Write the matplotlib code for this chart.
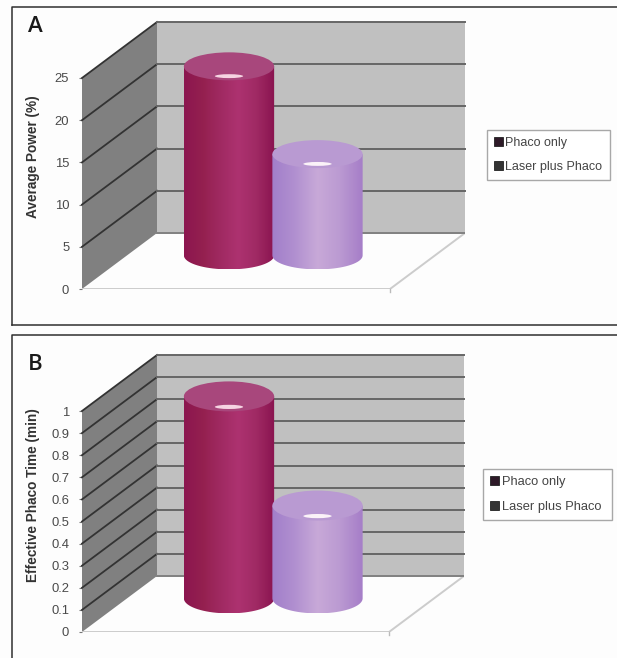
import numpy as np
import matplotlib
matplotlib.use('Agg')
import matplotlib.pyplot as plt
from matplotlib.colors import LinearSegmentedColormap
from matplotlib.patches import Ellipse, Polygon, Rectangle, PathPatch
from matplotlib.path import Path
from matplotlib.lines import Line2D

plt.rcParams['font.family'] = ['Liberation Sans', 'DejaVu Sans']

W, H = 617, 658

series_names = ['Phaco only', 'Laser plus Phaco']

# panel A
power_values = [22.4, 12.0]
power_ticks = [0, 5, 10, 15, 20, 25]
power_ticklabels = ['0', '5', '10', '15', '20', '25']
power_label = 'Average Power (%)'

# panel B
time_values = [0.914, 0.42]
time_ticks = [0, 0.1, 0.2, 0.3, 0.4, 0.5, 0.6, 0.7, 0.8, 0.9, 1]
time_ticklabels = ['0', '0.1', '0.2', '0.3', '0.4', '0.5', '0.6', '0.7', '0.8', '0.9', '1']
time_label = 'Effective Phaco Time (min)'

bar_maps = [
    LinearSegmentedColormap.from_list('mag', ['#8c1650', '#94204f', '#a02a62', '#ad3270', '#a02a64', '#8a1450']),
    LinearSegmentedColormap.from_list('pur', ['#a27fca', '#b190d0', '#c8a9d8', '#bb9ad2', '#a67ec8']),
]
top_colors = ['#a8477c', '#b99ad2']
lip_colors = ['#f6d4e2', '#fbf2f8']
swatches = ['#2e1a28', '#343434']


def draw_panel(values, ticks, ticklabels, ylabel, letter, y0, y_max, x_right, cx, step,
               ell_h, label_y, letter_y, legend_box, legend_text_size):
    vmax = ticks[-1]
    depth_x, depth_y = 75, 56
    x_left = 82
    unit = (y0 - y_max) / vmax                  # pixels per value
    wall_h = y_max - depth_y

    ax = fig.add_axes([x_left / W, 1 - y0 / H, (x_right - x_left) / W, (y0 - wall_h) / H])
    xlim = ((x_left - cx) / step, (x_right - cx) / step)
    ylim = (0, (y0 - wall_h) / unit)
    d_x = depth_x / step
    d_y = depth_y / unit
    xa, xb = xlim[0], xlim[0] + d_x

    # walls and floor
    ax.add_patch(Polygon([(xa, 0), (xb, d_y), (xb, ylim[1]), (xa, vmax)], fc='#808080', ec='none'))
    ax.add_patch(Rectangle((xb, d_y), xlim[1] - xb, vmax, fc='#c0c0c0', ec='none'))
    ax.plot([xa, xlim[1] - d_x, xlim[1], xb], [0, 0, d_y, d_y], color='#cccccc', lw=1.4)
    ax.plot([xlim[1] - d_x] * 2, [0, -3 / unit], color='#bbbbbb', lw=1, clip_on=False)

    for t in ticks:
        if t == 0:
            ax.plot([xb, xlim[1]], [d_y, d_y], color='#808080', lw=1.4)
            continue
        ax.plot([xa, xb], [t, t + d_y], color='#333333', lw=1.3, clip_on=False)
        ax.plot([xb, xlim[1]], [t + d_y, t + d_y], color='#666666', lw=1.4, clip_on=False)

    # cylinders
    base = 0.6 * d_y
    for i, v in enumerate(values):
        x0, x1 = i - 0.51, i + 0.51
        top = base + v
        h = ell_h / unit
        t_arc = np.linspace(np.pi, 2 * np.pi, 40)
        xs = i + 0.51 * np.cos(t_arc)
        ys = base + h / 2 * np.sin(t_arc)
        verts = list(zip(xs, ys)) + [(x1, top), (x0, top), (x0, ys[0])]
        clip = PathPatch(Path(verts), transform=ax.transData, fc='none', ec='none')
        ax.add_patch(clip)
        shade = np.linspace(0, 1, 64)[None, :].repeat(8, axis=0)
        im = ax.imshow(shade, extent=(x0, x1, base - h / 2, top), origin='lower',
                       aspect='auto', cmap=bar_maps[i], vmin=0, vmax=1, zorder=3 + i)
        im.set_clip_path(clip)
        ax.add_patch(Ellipse((i, top), x1 - x0, h, fc=top_colors[i], ec='none', zorder=3 + i))
        ax.add_patch(Ellipse((i, top - h * 0.35), 0.32, h * 0.14, fc=lip_colors[i], ec='none', zorder=3 + i))

    ax.set_xlim(xlim)
    ax.set_ylim(ylim)
    ax.patch.set_visible(False)
    for s in ax.spines.values():
        s.set_visible(False)
    ax.set_xticks([])
    ax.set_yticks(ticks)
    ax.set_yticklabels(ticklabels, fontsize=9.4, color='#4a4a4a')
    ax.tick_params(axis='y', length=2.2, width=0.8, color='#777777', pad=7)
    ax.set_ylabel(ylabel, fontsize=9.8, fontweight='bold', color='#333333')
    ax.yaxis.set_label_coords((40 - x_left) / (x_right - x_left), (y0 - label_y) / (y0 - wall_h))

    handles = [Rectangle((0, 0), 1, 1, fc=c, ec='#222222', lw=0.6) for c in swatches]
    leg = ax.legend(handles, series_names, loc='lower left', borderaxespad=0, frameon=True, fancybox=False,
                    bbox_to_anchor=(legend_box[0] / W, 1 - legend_box[1] / H, legend_box[2] / W, legend_box[3] / H),
                    bbox_transform=fig.transFigure, mode='expand', fontsize=legend_text_size,
                    handlelength=0.7, handleheight=0.7, handletextpad=0.2, labelspacing=1.0,
                    borderpad=0.55, edgecolor='#a8a8a8', labelcolor='#444444')
    leg.get_frame().set_linewidth(1.0)
    leg.get_frame().set_alpha(1)

    fig.text(28 / W, 1 - letter_y / H, letter, fontsize=16, color='#1a1a1a', fontweight='semibold',
             family='Open Sans', va='center', ha='left')


fig = plt.figure(figsize=(W / 100, H / 100), dpi=100, facecolor='#fdfdfd')

# panel frames
for y_a, y_b in [(6.5, 325), (335, 658)]:
    fig.add_artist(Line2D([1, 12 / W, 12 / W], [1 - y_a / H, 1 - y_a / H, 1 - y_b / H], color='#2f2f2f', lw=1.1))
fig.add_artist(Line2D([12 / W, 1], [1 - 325 / H, 1 - 325 / H], color='#2f2f2f', lw=1.1))

draw_panel(power_values, power_ticks, power_ticklabels, power_label, 'A', 289, 78, 465, 229, 88.5,
           28, 157, 27, (487, 180, 123, 49), 9.0)
draw_panel(time_values, time_ticks, time_ticklabels, time_label, 'B', 632, 411, 464, 229, 88.5,
           30, 495, 365, (483, 520, 129, 49), 9.3)

fig.savefig('out.png', dpi=100, facecolor=fig.get_facecolor())
